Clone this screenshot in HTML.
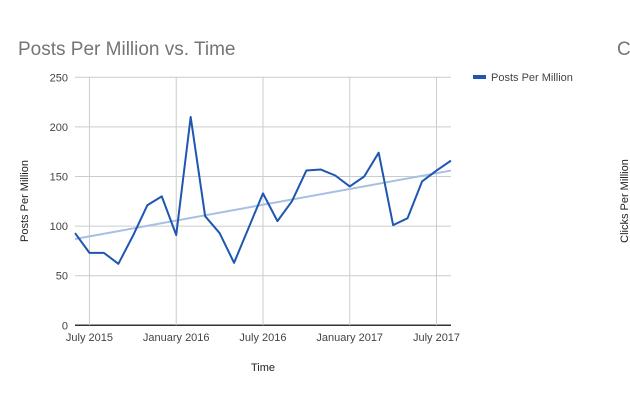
<!DOCTYPE html>
<html><head><meta charset="utf-8"><style>
body{margin:0;background:#fff;font-family:"Liberation Sans",sans-serif}
svg text{font-family:"Liberation Sans",sans-serif}
</style></head><body>
<svg width="630" height="412">
<text x="18" y="55" font-size="19" fill="#757575">Posts Per Million vs. Time</text>
<text x="617" y="55" font-size="19" fill="#757575">C</text>
<text transform="translate(628,201) rotate(-90)" text-anchor="middle" font-size="11" fill="#222">Clicks Per Million</text>
<g id="grid"></g>
<g id="plot"></g>
<text transform="translate(28,201) rotate(-90)" text-anchor="middle" font-size="11" fill="#222">Posts Per Million</text>
<text x="263" y="371" text-anchor="middle" font-size="11" fill="#222">Time</text>
<rect x="473" y="75" width="13" height="4" fill="#1f56b0"/>
<text x="491" y="81" font-size="11" fill="#444">Posts Per Million</text>
</svg>
<script>
const values=[93,73,73,62,90,121,130,91,210,110,93,63,98,133,105,125,156,157,151,140,150,174,101,108,145,156,166];
const trendStart=87, trendEnd=156;
const yTicks=[0,50,100,150,200,250];
const xTickLabels=["July 2015","January 2016","July 2016","January 2017","July 2017"];
const xTickMonths=[1,7,13,19,25];
const NS="http://www.w3.org/2000/svg";
const x0=75,dx=14.46,yb=325.3,yt=77.3,xr=451;
const X=i=>x0+i*dx, Y=v=>yb-(v/250)*(yb-yt);
const grid=document.getElementById('grid'),plot=document.getElementById('plot');
function mk(tag,attrs,parent){const e=document.createElementNS(NS,tag);for(const k in attrs)e.setAttribute(k,attrs[k]);parent.appendChild(e);return e;}
yTicks.forEach(v=>{
 const l=mk('line',{x1:x0,x2:xr,y1:Y(v),y2:Y(v),stroke:v===0?'#333':'#ccc','stroke-width':v===0?1.5:1},grid);
 
 
 const t=mk('text',{x:68,y:Y(v)+4,'text-anchor':'end','font-size':11,fill:'#444'},grid);
 t.textContent=v;
 
 
});
xTickMonths.forEach((m,i)=>{
 const l=mk('line',{x1:X(m),x2:X(m),y1:yt,y2:yb,stroke:'#ccc'},grid);
 
 
 const t=mk('text',{x:X(m),y:341,'text-anchor':'middle','font-size':11,fill:'#444'},grid);
 t.textContent=xTickLabels[i];
 
 
});
const tr=mk('line',{x1:X(0),y1:Y(trendStart),x2:X(values.length-1),y2:Y(trendEnd),stroke:'#a6bfe4','stroke-width':2},plot);


const p=mk('polyline',{points:values.map((v,i)=>X(i)+','+Y(v)).join(' '),fill:'none',stroke:'#1f56b0','stroke-width':2,'stroke-linejoin':'round'},plot);


</script>
</body></html>
